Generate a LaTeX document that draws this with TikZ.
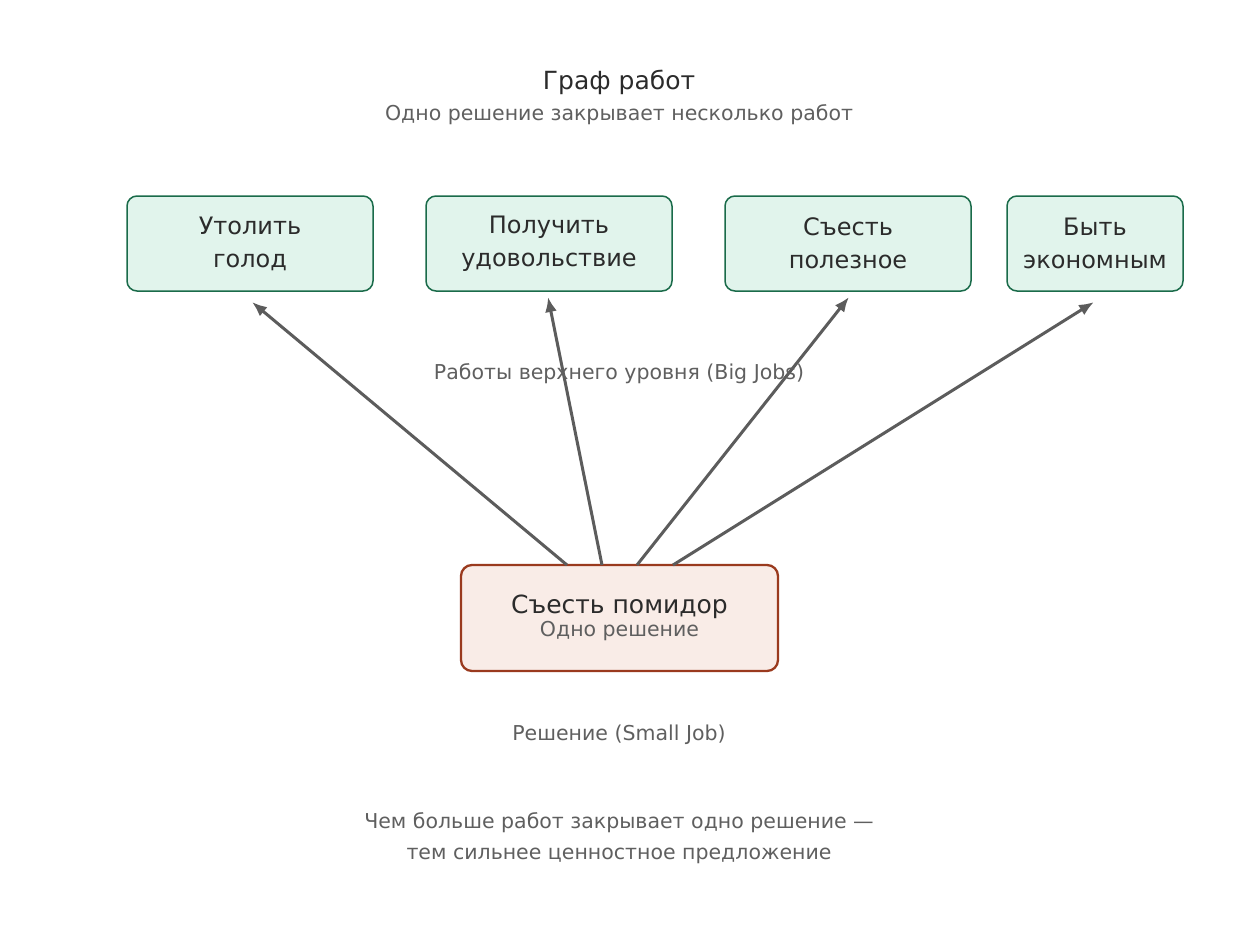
\documentclass[tikz,border=0pt]{standalone}
\usepackage{fontspec}
\setmainfont{DejaVu Sans}
\usetikzlibrary{positioning, arrows.meta}
\definecolor{jobfill}{HTML}{E1F4EC}
\definecolor{jobline}{HTML}{1A6B4A}
\definecolor{solfill}{HTML}{F9ECE7}
\definecolor{solline}{HTML}{9A3A1E}
\definecolor{arrgray}{HTML}{5C5C5C}
\definecolor{txtdark}{HTML}{2B2B2B}
\definecolor{txtgray}{HTML}{5F5F5F}
\tikzset{
    >=Stealth,
    every node/.style={rounded corners=2pt}
}

\begin{document}
\begin{tikzpicture}[x=1pt, y=-1pt,
  job/.style={draw=jobline, fill=jobfill, line width=1.5pt, rounded corners=10pt, minimum height=95pt, align=center, font=\fontsize{24}{33}\selectfont, text=txtdark},
  solution/.style={draw=solline, fill=solfill, line width=2.3pt, rounded corners=11pt, minimum width=317pt, minimum height=106pt, align=center, text=txtdark},
  note/.style={font=\fontsize{20.5}{26}\selectfont, text=txtgray, align=center},
  arrowstyle/.style={-{Latex[length=15pt,width=12pt]}, line width=3pt, draw=arrgray}
]
  \useasboundingbox (0,0) rectangle (1240,924);

  % Title
  \node[font=\fontsize{25}{30}\selectfont, text=txtdark] (title) at (619,82) {Граф работ};
  \node[note] (subtitle) at (619,115) {Одно решение закрывает несколько работ};

  % Big jobs
  \node[job, minimum width=246pt] (hunger)   at (250,243.5) {Утолить\\голод};
  \node[job, minimum width=246pt] (pleasure) at (549,243.5) {Получить\\удовольствие};
  \node[job, minimum width=246pt] (healthy)  at (848,243.5) {Съесть\\полезное};
  \node[job, minimum width=176pt] (cheap)    at (1095,243.5) {Быть\\экономным};

  % Small job
  \node[solution] (tomato) at (619.5,618) {\fontsize{25}{30}\selectfont Съесть помидор\\[2pt]{\fontsize{20.5}{24}\selectfont\color{txtgray}Одно решение}};

  % Arrow ends
  \coordinate (s1) at (567,565);  \coordinate (t1) at (252,302);
  \coordinate (s2) at (602,565);  \coordinate (t2) at (548,297);
  \coordinate (s3) at (637,565);  \coordinate (t3) at (849,297);
  \coordinate (s4) at (673,565);  \coordinate (t4) at (1094,302);

  \draw[arrowstyle] (s1) -- (t1);
  \draw[arrowstyle] (s2) -- (t2);
  \draw[arrowstyle] (s3) -- (t3);
  \draw[arrowstyle] (s4) -- (t4);

  % Labels
  \node[note] (biglabel) at (619,374) {Работы верхнего уровня (Big Jobs)};
  \node[note] (smalllabel) at (619,735) {Решение (Small Job)};
  \node[note, font=\fontsize{20.5}{31}\selectfont] (moral) at (619,838.5) {Чем больше работ закрывает одно решение —\\тем сильнее ценностное предложение};
\end{tikzpicture}
\end{document}
